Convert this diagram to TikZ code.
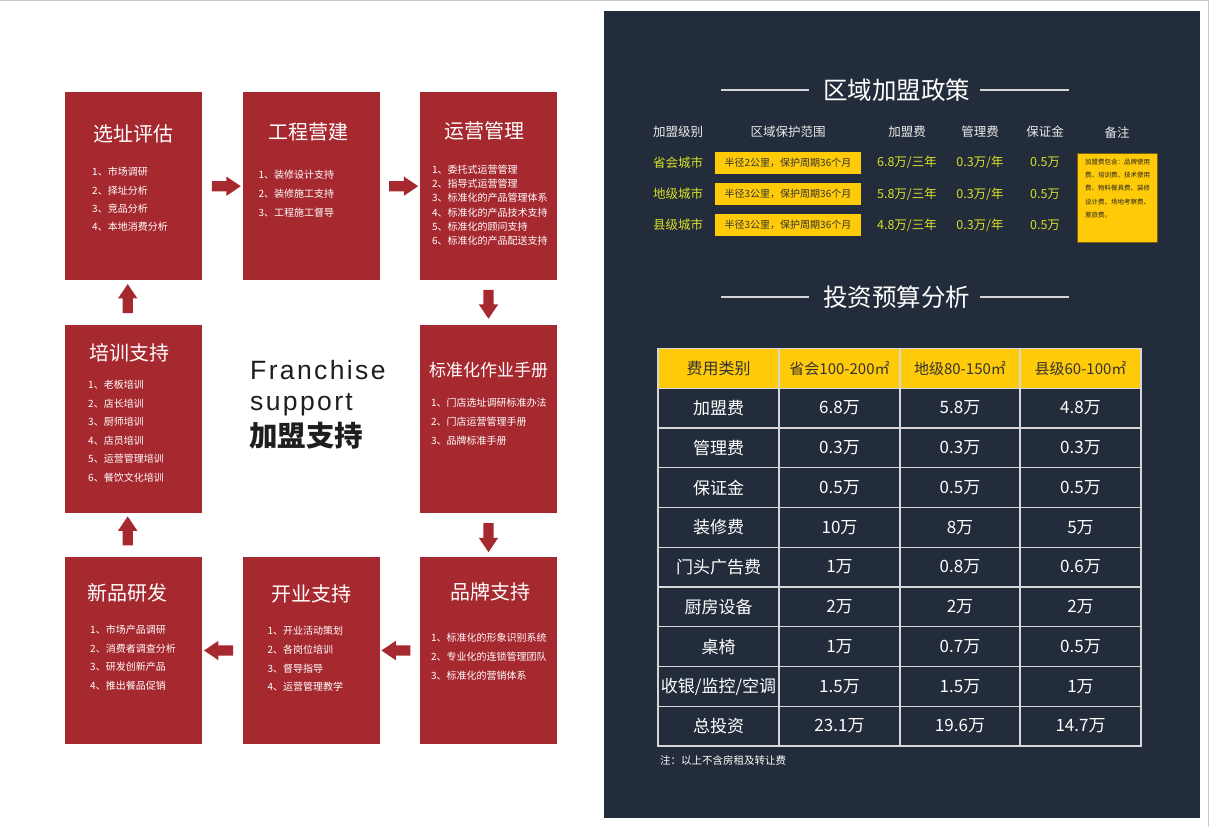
\documentclass[tikz,border=0pt]{standalone}
\usepackage{fontspec}
\setmainfont{Noto Sans CJK SC}
\newfontfamily\franfont[LetterSpace=9]{Liberation Sans}
\usetikzlibrary{positioning,calc,shapes.arrows}

\definecolor{boxred}{RGB}{167,41,48}
\definecolor{panel}{RGB}{35,44,58}
\definecolor{gold}{RGB}{255,202,8}
\definecolor{lime}{RGB}{218,224,40}
\definecolor{headwhite}{RGB}{235,235,235}
\definecolor{gridgray}{RGB}{215,215,215}
\definecolor{franblack}{RGB}{30,30,30}
\definecolor{framegray}{RGB}{200,200,200}
\definecolor{notebrown}{RGB}{120,95,20}

\begin{document}
\begin{tikzpicture}[x=1pt,y=-1pt]

	\tikzstyle{module}=[rectangle,fill=boxred,
		minimum width=137pt,minimum height=188pt,inner sep=0pt,
		node distance=40pt]
	\tikzstyle{heading}=[text=white,inner sep=0pt,font=\fontsize{20}{24}\selectfont]
	\tikzstyle{entry}=[text=white,inner sep=0pt,anchor=west,font=\fontsize{10}{12}\selectfont]
	\tikzstyle{blockarrow}=[single arrow,fill=boxred,inner xsep=0pt,inner ysep=5pt,
		minimum height=29pt,
		single arrow head extend=4.5pt,single arrow tip angle=68]
	\tikzstyle{paneltitle}=[text=white,inner sep=0pt,font=\fontsize{24.5}{28}\selectfont]
	\tikzstyle{titlerule}=[draw=white!80!panel,line width=1.2pt]
	\tikzstyle{policy}=[inner sep=0pt,font=\fontsize{12.5}{15}\selectfont]
	\tikzstyle{rangebox}=[fill=gold,text=black!80,inner sep=0pt,
		minimum width=146pt,minimum height=22pt,font=\fontsize{10}{12}\selectfont]
	\tikzstyle{notebox}=[fill=gold,draw=notebrown,thin,inner sep=0pt,
		minimum width=80pt,minimum height=89pt]
	\tikzstyle{cell}=[text=white,inner sep=0pt,font=\fontsize{17}{20}\selectfont]
	\tikzstyle{headcell}=[text=black!80,inner sep=0pt,font=\fontsize{15}{18}\selectfont]
	\tikzstyle{tablegrid}=[draw=gridgray,line width=1.3pt]

	\fill[white] (0,0) rectangle (1209,827);
	\useasboundingbox (0,0) rectangle (1209,827);
	\draw[framegray,line width=0.8pt] (0,0.4) -- (1209,0.4);
	\draw[framegray,line width=0.8pt] (1208.2,0) -- (1208.2,827);

	% support modules, clockwise
	\node[module,anchor=north west] (site) at (65,92) {};
	\node[module,right=of site] (build) {};
	\node[module,right=of build] (oper) {};
	\node[module,below=44pt of oper] (manual) {};
	\node[module,below=44pt of manual,minimum height=187pt] (brand) {};
	\node[module,left=of brand,minimum height=187pt] (opening) {};
	\node[module,left=of opening,minimum height=187pt] (newprod) {};
	\node[module,below=44pt of site] (train) {};

	\foreach \b/\dx/\dy/\txt in {site/0/42/选址评估,build/-3/39.7/工程营建,oper/-4/38.7/运营管理,%
		train/-4/28.3/培训支持,newprod/-6/35.7/新品研发,opening/0/37.3/开业支持,brand/2/34.7/品牌支持}
		\node[heading] (\b-title) at ([shift={(\dx,\dy)}]\b.north) {\txt};
	\node[heading,font=\fontsize{17}{20}\selectfont] (manual-title) at ([shift={(0,45.3)}]manual.north) {标准化作业手册};

	\foreach \b/\dx/\dy/\gap/\list in {%
		site/27/80/18.4/{市场调研,择址分析,竞品分析,本地消费分析},%
		build/16/83/18.6/{装修设计支持,装修施工支持,工程施工督导},%
		oper/12/78/14.1/{委托式运营管理,指导式运营管理,标准化的产品管理体系,标准化的产品技术支持,标准化的顾问支持,标准化的产品配送支持},%
		manual/11/78.7/18.7/{门店选址调研标准办法,门店运营管理手册,品牌标准手册},%
		brand/11/81.3/18.7/{标准化的形象识别系统,专业化的连锁管理团队,标准化的营销体系},%
		opening/25/74/18.7/{开业活动策划,各岗位培训,督导指导,运营管理教学},%
		newprod/25/73/18.7/{市场产品调研,消费者调查分析,研发创新产品,推出餐品促销},%
		train/23/60.3/18.6/{老板培训,店长培训,厨师培训,店员培训,运营管理培训,餐饮文化培训}}
		\foreach \txt [count=\i] in \list
			\node[entry] (\b-\i) at ([shift={(\dx,{\dy+(\i-1)*\gap})}]\b.north west) {{\i}、\txt};

	% block arrows
	\node[blockarrow] (a1) at ($(site.east)!0.5!(build.west)$) {};
	\node[blockarrow] (a2) at ($(build.east)!0.5!(oper.west)$) {};
	\node[blockarrow,rotate=-90] (a3) at ($(oper.south)!0.5!(manual.north)+(0,-2)$) {};
	\node[blockarrow,rotate=-90] (a4) at ($(manual.south)!0.5!(brand.north)+(0,-1)$) {};
	\node[blockarrow,rotate=180] (a5) at ($(brand.west)!0.5!(opening.east)$) {};
	\node[blockarrow,rotate=180] (a6) at ($(opening.west)!0.5!(newprod.east)$) {};
	\node[blockarrow,rotate=90] (a7) at ($(newprod.north)!0.5!(train.south)+(-6,0)$) {};
	\node[blockarrow,rotate=90] (a8) at ($(train.north)!0.5!(site.south)+(-6,0)$) {};

	\node[anchor=base west,inner sep=0pt,text=franblack,font=\franfont\fontsize{26.5}{30}\selectfont] (fran) at (250,379) {Franchise};
	\node[anchor=base west,inner sep=0pt,text=franblack,font=\franfont\fontsize{26.5}{30}\selectfont] (supp) at (250,410) {support};
	\node[anchor=base west,inner sep=0pt,text=franblack,font=\bfseries\fontsize{28.5}{32}\selectfont] (jmzc) at (249,446) {加盟支持};

	% right panel
	\fill[panel] (604,11) rectangle (1200,818);

	\node[paneltitle] (policyT) at (896.5,90) {区域加盟政策};
	\draw[titlerule] ([xshift=-14pt]policyT.west) -- ++(-88,0);
	\draw[titlerule] ([xshift=10pt]policyT.east) -- ++(89,0);

	\node[policy,text=headwhite] (hlevel) at (678,132) {加盟级别};
	\node[policy,text=headwhite] (hrange) at (788,132) {区域保护范围};
	\node[policy,text=headwhite] (hfee) at (907,132) {加盟费};
	\node[policy,text=headwhite] (hmgmt) at (980,132) {管理费};
	\node[policy,text=headwhite] (hdep) at (1045,132) {保证金};
	\node[policy,text=headwhite] (hnote) at (1117,133) {备注};

	\foreach \lvl/\rad/\fee [count=\i] in {省会城市/2/6.8,地级城市/3/5.8,县级城市/3/4.8}{
		\node[policy,text=lime] (lvl\i) at (678,{131.5+31.2*\i}) {\lvl};
		\node[rangebox] (rng\i) at (788,{131.5+31.2*\i}) {半径\rad 公里，保护周期36个月};
		\node[policy,text=lime] (fee\i) at (907,{131.5+31.2*\i}) {\fee 万/三年};
		\node[policy,text=lime] (mgmt\i) at (980,{131.5+31.2*\i}) {0.3万/年};
		\node[policy,text=lime] (dep\i) at (1045,{131.5+31.2*\i}) {0.5万};
	}

	\node[notebox] (note) at (1117,197.5) {};
	\node[anchor=north west,align=left,inner sep=0pt,text=black!85,font=\fontsize{6.5}{13.3}\selectfont] (noteT) at (1085,158.5)
		{加盟费包含：品牌使用\\费、培训费、技术使用\\费、物料餐具费、装修\\设计费、场地考察费、\\差旅费。};

	\node[paneltitle] (budgetT) at (896.5,297) {投资预算分析};
	\draw[titlerule] ([xshift=-14pt]budgetT.west) -- ++(-88,0);
	\draw[titlerule] ([xshift=10pt]budgetT.east) -- ++(89,0);

	% budget table
	\fill[gold] (658,348.3) rectangle (1141,388.3);
	\draw[tablegrid] (658,348.3) rectangle (1141,746);
	\foreach \k in {1,...,8}
		\draw[tablegrid] (658,{388.3+39.74*\k}) -- (1141,{388.3+39.74*\k});
	\draw[tablegrid] (658,388.3) -- (1141,388.3);
	\foreach \cx in {779,900,1020}
		\draw[tablegrid] (\cx,348.3) -- (\cx,746);

	\node[headcell,font=\fontsize{16}{19}\selectfont] (hcat) at (718.5,368.3) {费用类别};
	\node[headcell] (hprov) at (839.5,368.3) {省会100-200㎡};
	\node[headcell] (hcity) at (960,368.3) {地级80-150㎡};
	\node[headcell] (hcounty) at (1080.5,368.3) {县级60-100㎡};

	\foreach \cat/\va/\vb/\vc [count=\i] in {加盟费/6.8万/5.8万/4.8万,管理费/0.3万/0.3万/0.3万,%
		保证金/0.5万/0.5万/0.5万,装修费/10万/8万/5万,门头广告费/1万/0.8万/0.6万,%
		厨房设备/2万/2万/2万,桌椅/1万/0.7万/0.5万,{收银/监控/空调}/1.5万/1.5万/1万,%
		总投资/23.1万/19.6万/14.7万}{
		\node[cell] (cat\i) at (718.5,{388.3+39.74*(\i-0.5)}) {\cat};
		\node[cell] (va\i) at (839.5,{388.3+39.74*(\i-0.5)}) {\va};
		\node[cell] (vb\i) at (960,{388.3+39.74*(\i-0.5)}) {\vb};
		\node[cell] (vc\i) at (1080.5,{388.3+39.74*(\i-0.5)}) {\vc};
	}

	\node[anchor=west,inner sep=0pt,text=white,font=\fontsize{10.5}{12}\selectfont] (footnote) at (660,761) {注：以上不含房租及转让费};

\end{tikzpicture}
\end{document}
